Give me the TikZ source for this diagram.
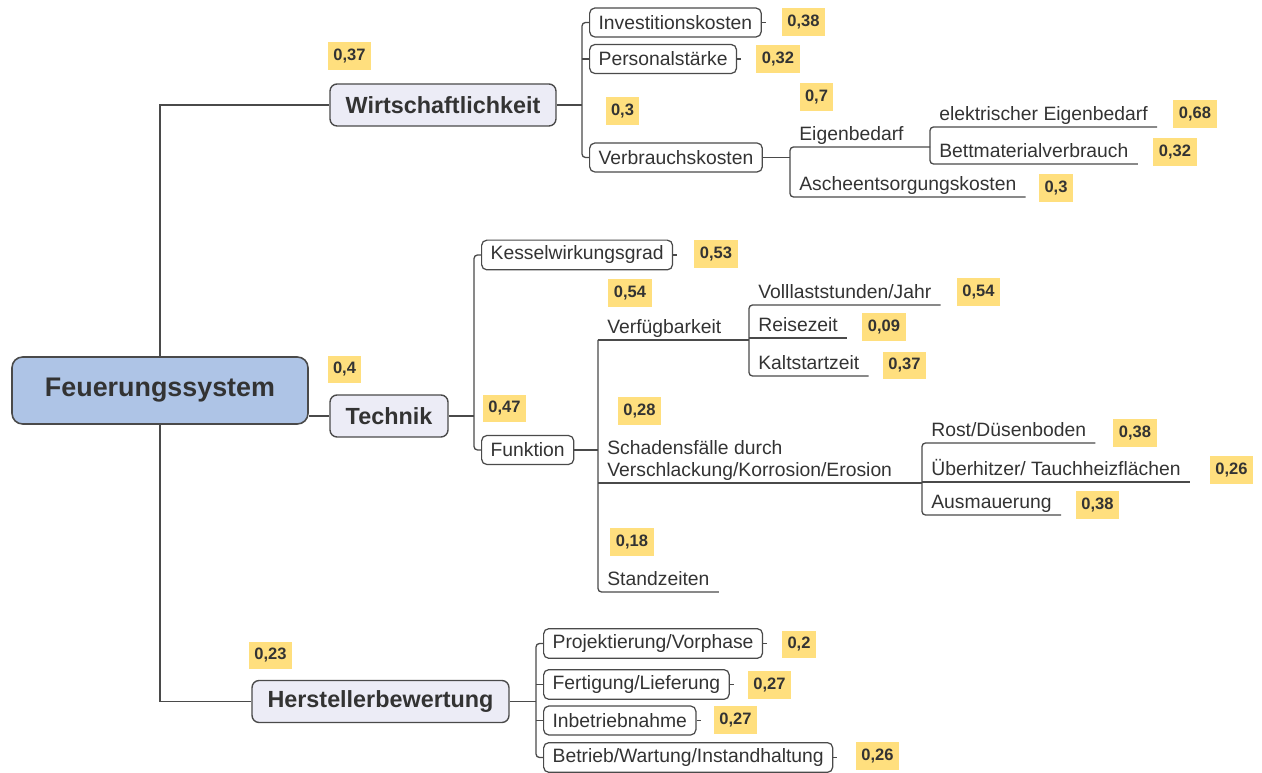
\documentclass[tikz,border=0pt]{standalone}
\usepackage{fontspec}
\setmainfont{Liberation Sans}
\definecolor{rootblue}{HTML}{AEC4E6}
\definecolor{mainfill}{HTML}{ECECF6}
\definecolor{wtyellow}{HTML}{FFDF7E}
\definecolor{linegray}{HTML}{4A4A4A}
\definecolor{textgray}{HTML}{333333}
\begin{document}
\begin{tikzpicture}[
    x=0.02cm, y=-0.02cm,
    root/.style={rectangle, draw=linegray, line width=0.9pt, rounded corners=6pt, fill=rootblue, font=\fontsize{15.3}{18}\selectfont\bfseries, text=textgray, minimum width=5.92cm, minimum height=1.34cm},
    main/.style={rectangle, draw=linegray, line width=0.8pt, rounded corners=4pt, fill=mainfill, font=\fontsize{13.3}{16}\selectfont\bfseries, text=textgray, minimum height=0.84cm},
    sub/.style={rectangle, draw=linegray, line width=0.7pt, rounded corners=3pt, fill=white, font=\fontsize{11}{12}\selectfont, text=textgray, minimum height=0.58cm, inner xsep=0.18cm, anchor=west},
    leaf/.style={anchor=south west, font=\fontsize{11}{12.5}\selectfont, text=textgray, inner xsep=0.18cm, inner ysep=0.03cm, text depth=2.8pt, align=left},
    wt/.style={fill=wtyellow, font=\fontsize{9.4}{11}\selectfont\bfseries, text=textgray, minimum height=0.56cm, inner xsep=0.11cm},
    link/.style={draw=linegray, line width=0.75pt},
    fork/.style={link, rounded corners=2pt}
]
  \useasboundingbox (0,0) rectangle (1262,773);
  % root and main branches
  \node[root] (root) at (160,390.5) {Feuerungssystem};
  \node[main, minimum width=4.52cm] (wirt) at (443,105) {Wirtschaftlichkeit};
  \node[main, minimum width=2.36cm] (tech) at (389,416) {Technik};
  \node[main, minimum width=5.14cm] (hers) at (380.5,701.5) {Herstellerbewertung};
  \draw[link] (root.north) |- (wirt.west);
  \draw[link] (root.south) |- (hers.west);
  \draw[link] (tech.west) -- (tech.west -| root.east);
  % Wirtschaftlichkeit
  \node[sub] (inv) at (589,22.5) {Investitionskosten};
  \node[sub] (pers) at (589,59) {Personalstärke};
  \node[sub] (verb) at (589,157.5) {Verbrauchskosten};
  \coordinate (wbus) at (582,105);
  \draw[link] (wirt.east) -- (wbus);
  \draw[fork] (inv.west) -- (inv.west -| wbus) -- (verb.west -| wbus) -- (verb.west);
  \draw[link] (pers.west) -- (pers.west -| wbus);
  \node[leaf] (eig) at (790,147) {Eigenbedarf};
  \node[leaf] (asche) at (790,197) {Ascheentsorgungskosten};
  \node[leaf] (elek) at (930,127) {elektrischer Eigenbedarf};
  \node[leaf] (bett) at (930,164) {Bettmaterialverbrauch};
  \coordinate (vbus) at (790,157.5);
  \coordinate (ebus) at (930,147);
  \draw[link] (verb.east) -- (vbus);
  \draw[fork] (ebus) -- (eig.south west) -- (asche.south west) -- (asche.south east);
  \draw[fork] (elek.south east) -- (elek.south west) -- (bett.south west) -- (bett.south east);
  % Technik
  \node[sub] (kessel) at (481,255) {Kesselwirkungsgrad};
  \node[sub] (funk) at (481,450) {Funktion};
  \coordinate (tbus) at (474,416);
  \draw[link] (tech.east) -- (tbus);
  \draw[fork] (kessel.west) -- (kessel.west -| tbus) -- (funk.west -| tbus) -- (funk.west);
  \node[leaf] (verf) at (598,340) {Verfügbarkeit};
  \node[leaf] (schad) at (598,483) {Schadensfälle durch\\Verschlackung/Korrosion/Erosion};
  \node[leaf] (stand) at (598,592) {Standzeiten};
  \coordinate (fbus) at (598,450);
  \draw[link] (funk.east) -- (fbus);
  \draw[fork] (verf.south west) -- (stand.south west) -- (stand.south east);
  \node[leaf] (voll) at (749,305) {Volllaststunden/Jahr};
  \node[leaf] (reise) at (749,338) {Reisezeit};
  \node[leaf] (kalt) at (749,376) {Kaltstartzeit};
  \coordinate (abus) at (749,340);
  \draw[link] (verf.south west) -- (abus);
  \draw[fork] (voll.south east) -- (voll.south west) -- (kalt.south west) -- (kalt.south east);
  \draw[link] (reise.south west) -- (reise.south east);
  \node[leaf] (rost) at (922,443) {Rost/Düsenboden};
  \node[leaf] (ueber) at (922,482) {Überhitzer/ Tauchheizflächen};
  \node[leaf] (ausm) at (922,515) {Ausmauerung};
  \coordinate (sbus) at (922,483);
  \draw[link] (schad.south west) -- (sbus);
  \draw[fork] (rost.south east) -- (rost.south west) -- (ausm.south west) -- (ausm.south east);
  \draw[link] (ueber.south west) -- (ueber.south east);
  % Herstellerbewertung
  \node[sub] (proj) at (543,643.5) {Projektierung/Vorphase};
  \node[sub] (fert) at (543,684.5) {Fertigung/Lieferung};
  \node[sub] (inbe) at (543,720.5) {Inbetriebnahme};
  \node[sub] (betr) at (543,757.5) {Betrieb/Wartung/Instandhaltung};
  \coordinate (hbus) at (536,701.5);
  \draw[link] (hers.east) -- (hbus);
  \draw[fork] (proj.west) -- (proj.west -| hbus) -- (betr.west -| hbus) -- (betr.west);
  \draw[link] (fert.west) -- (fert.west -| hbus);
  \draw[link] (inbe.west) -- (inbe.west -| hbus);
  % collapse ticks
  \foreach \n in {inv,pers,kessel,proj,fert,inbe,betr}
    \draw[link] (\n.east) -- ++(4,0);
  % weights
  \foreach \n/\x/\y/\v in {1/349.5/56/37, 2/344.5/369.5/4, 3/270.5/655.5/23,
      4/803.5/22/38, 5/778/59.5/32, 6/622.5/111.5/3, 7/816.5/97/7,
      8/1195/114/68, 9/1175/152/32, 10/1056/188/3, 11/716/254/53,
      12/504.5/408.5/47, 13/630/293.5/54, 14/978.5/292.5/54, 15/884/327/09,
      16/904.5/365.5/37, 17/639.5/411/28, 18/1135/433/38, 19/1231.5/470/26,
      20/1097.5/505/38, 21/632/542/18, 22/799/644.5/2, 23/769.5/685/27,
      24/735.5/720/27, 25/877.5/756/26}
    \node[wt] (w\n) at (\x,\y) {0,\v};
\end{tikzpicture}
\end{document}
